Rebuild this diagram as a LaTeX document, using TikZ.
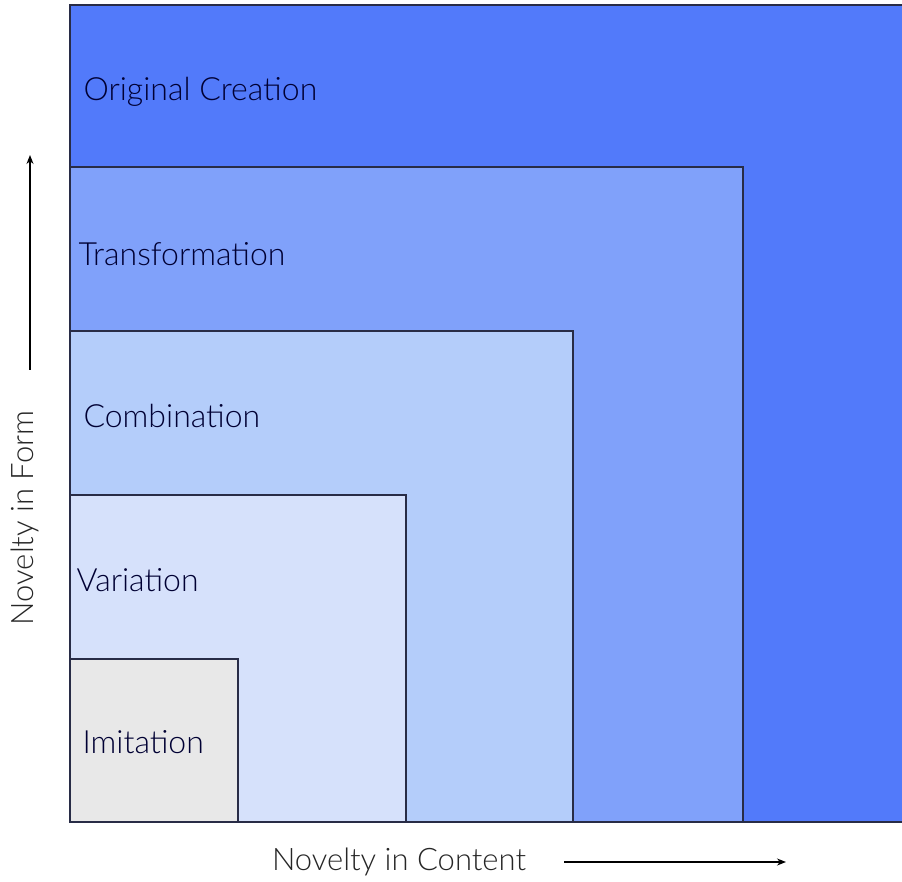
\documentclass[tikz,border=0pt]{standalone}
\usepackage{fontspec}
\setmainfont{Lato Light}
\usetikzlibrary{arrows.meta}
\tikzset{>={Stealth[length=9pt,width=7pt]}}
\definecolor{creation}{RGB}{82,122,250}
\definecolor{transform}{RGB}{128,161,250}
\definecolor{combine}{RGB}{180,205,250}
\definecolor{vary}{RGB}{214,225,251}
\definecolor{imitate}{RGB}{232,232,232}
\definecolor{edge}{RGB}{40,44,70}

\begin{document}
\begin{tikzpicture}[x=1pt,y=-1pt,
  level/.style={draw=edge, line width=1.3pt},
  lbl/.style={anchor=west, font=\fontsize{32}{36}\selectfont, text=black!80!blue},
  axis/.style={font=\fontsize{31}{36}\selectfont, text=black!85}]
\useasboundingbox (0,0) rectangle (902,882);
\fill[white] (0,0) rectangle (902,882);
\draw[level, fill=creation] (70,5) rectangle (910,822);
\draw[level, fill=transform] (70,167) rectangle (743,822);
\draw[level, fill=combine] (70,331) rectangle (573,822);
\draw[level, fill=vary] (70,495) rectangle (406,822);
\draw[level, fill=imitate] (70,659) rectangle (238,822);
\node[lbl] (orig) at (80,92) {Original Creation};
\node[lbl] (trans) at (75,254) {Transformation};
\node[lbl] (comb) at (80,416) {Combination};
\node[lbl] (var) at (73,580) {Variation};
\node[lbl] (imit) at (79,742) {Imitation};
\node[axis, rotate=90] (form) at (25,518) {Novelty in Form};
\node[axis] (content) at (399,862) {Novelty in Content};
\coordinate (f0) at (30,370);
\coordinate (f1) at (30,155);
\coordinate (c0) at (564,862);
\coordinate (c1) at (786,862);
\draw[->, line width=1.3pt] (f0) -- (f1);
\draw[->, line width=1.3pt] (c0) -- (c1);
\end{tikzpicture}
\end{document}
